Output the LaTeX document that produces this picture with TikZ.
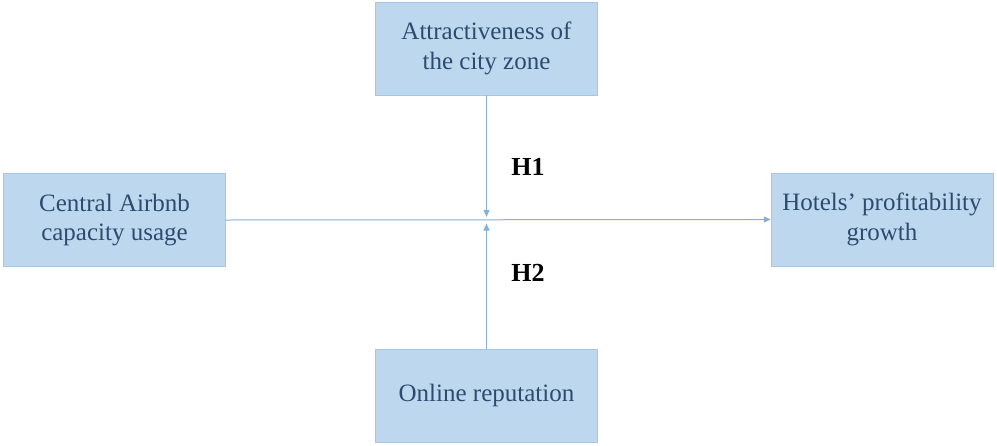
\documentclass[tikz,border=0pt]{standalone}
\usepackage{fontspec}
\setmainfont{Liberation Serif}
\usepackage{tikz}
\usetikzlibrary{arrows.meta}
\definecolor{boxfill}{HTML}{BDD7EE}
\definecolor{boxline}{HTML}{A7C5E4}
\definecolor{boxtext}{HTML}{2C4B6E}
\definecolor{arrowline}{HTML}{86AFDC}

\begin{document}
\begin{tikzpicture}[x=1pt, y=-1pt, >={Triangle[length=7pt,width=6pt]},
  construct/.style={draw=boxline, fill=boxfill, text=boxtext, minimum width=222pt, minimum height=93pt,
    align=center, font=\fontsize{25}{29.5}\selectfont, inner sep=0pt},
  link/.style={->, draw=arrowline, line width=1pt},
  hyp/.style={font=\fontsize{26}{30}\selectfont\bfseries}]
  \useasboundingbox (0,0) rectangle (997,445);
  % Constructs
  \node[construct] (attr) at (486.5,48.5) {Attractiveness of\\the city zone};
  \node[construct] (airbnb) at (114.5,220) {Central Airbnb\\capacity usage};
  \node[construct] (hotels) at (882,219.5) {Hotels’ profitability\\growth};
  \node[construct] (online) at (486.5,395.5) {Online reputation};
  % Meeting point of the moderators
  \coordinate (h1end) at (486.5,217);
  \coordinate (h2end) at (486.5,223.5);
  % Paths
  \draw[link] (airbnb.east) -- (hotels.west);
  \draw[link] (attr.south) -- (h1end);
  \draw[link] (online.north) -- (h2end);
  % Hypotheses
  \node[hyp] (h1) at (528,167) {H1};
  \node[hyp] (h2) at (528,273) {H2};
\end{tikzpicture}
\end{document}
